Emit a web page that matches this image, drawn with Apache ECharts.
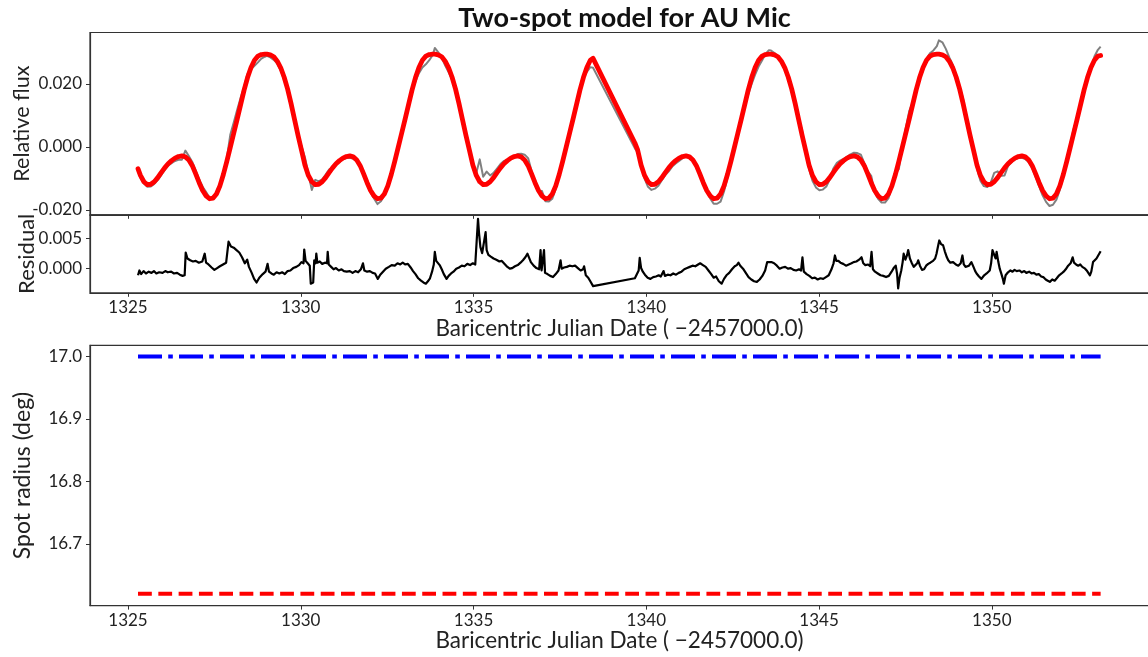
<!DOCTYPE html>
<html><head><meta charset="utf-8">
<script src="https://cdn.jsdelivr.net/npm/echarts@6/dist/echarts.min.js"></script>
<style>html,body{margin:0;padding:0;background:#fff}#c{width:1148px;height:657px}</style>
</head><body><div id="c"></div>
<script>
// ---- Model (red) and observed (grey) light curve, sampled on the same times ----
const modelTime = [
  1325.29,1325.36,1325.46,1325.56,1325.66,1325.76,1325.86,1325.96,1326.06,1326.16,1326.26,1326.36,1326.46,1326.56,1326.66,1326.76,1326.86,1326.96,1327.06,1327.16,1327.26,1327.36,1327.46,1327.56,1327.66,1327.76,1327.86,1327.96,1328.06,1328.16,1328.26,1328.36,1328.46,1328.56,1328.66,1328.76,1328.86,1328.96,
  1329.02,1329.12,1329.22,1329.32,1329.42,1329.52,1329.62,1329.72,1329.82,1329.92,1330.02,1330.12,1330.22,1330.32,1330.42,1330.52,1330.62,1330.72,1330.82,1330.92,1331.02,1331.12,1331.22,1331.32,1331.42,1331.52,1331.62,1331.72,1331.82,1331.92,1332.02,1332.12,1332.22,1332.32,1332.42,1332.52,1332.62,1332.72,1332.82,1332.92,1333.02,1333.12,1333.22,1333.32,1333.42,1333.52,1333.62,1333.72,1333.82,
  1333.88,1333.98,1334.08,1334.18,1334.28,1334.38,1334.48,1334.58,1334.68,1334.78,1334.88,1334.98,1335.08,1335.18,1335.28,1335.38,1335.48,1335.58,1335.68,1335.78,1335.88,1335.98,1336.08,1336.18,1336.28,1336.38,1336.48,1336.58,1336.68,1336.78,1336.88,1336.98,1337.08,1337.18,1337.28,1337.38,1337.48,1337.58,1337.68,1337.78,1337.88,1337.98,1338.08,1338.18,1338.28,1338.38,1338.46,
  1339.67,1339.75,1339.85,1339.95,1340.05,1340.15,1340.25,1340.35,1340.45,1340.55,1340.65,1340.75,1340.85,1340.95,1341.05,1341.15,1341.25,1341.35,1341.45,1341.55,1341.65,1341.75,1341.85,1341.95,1342.05,1342.15,1342.25,1342.35,1342.45,1342.55,1342.65,1342.75,1342.85,1342.95,1343.05,1343.15,1343.25,1343.35,1343.45,1343.55,
  1343.61,1343.71,1343.81,1343.91,1344.01,1344.11,1344.21,1344.31,1344.41,1344.51,1344.61,1344.71,1344.81,1344.91,1345.01,1345.11,1345.21,1345.31,1345.41,1345.51,1345.61,1345.71,1345.81,1345.91,1346.01,1346.11,1346.21,1346.31,1346.41,1346.51,1346.61,1346.71,1346.81,1346.91,1347.01,1347.11,1347.21,1347.31,1347.41,1347.51,1347.61,1347.71,1347.81,1347.91,1348.01,1348.11,1348.21,1348.31,1348.41,
  1348.47,1348.57,1348.67,1348.77,1348.87,1348.97,1349.07,1349.17,1349.27,1349.37,1349.47,1349.57,1349.67,1349.77,1349.87,1349.97,1350.07,1350.17,1350.27,1350.37,1350.47,1350.57,1350.67,1350.77,1350.87,1350.97,1351.07,1351.17,1351.27,1351.37,1351.47,1351.57,1351.67,1351.77,1351.87,1351.97,1352.07,1352.17,1352.27,1352.37,1352.47,1352.57,1352.67,1352.77,1352.87,1352.97,1353.07,1353.15
];
const modelFlux = [
  -0.0070,-0.0091,-0.0111,-0.0120,-0.0119,-0.0111,-0.0098,-0.0082,-0.0067,-0.0054,-0.0044,-0.0036,-0.0031,-0.0029,-0.0032,-0.0042,-0.0060,-0.0086,-0.0114,-0.0139,-0.0156,-0.0165,-0.0163,-0.0150,-0.0124,-0.0088,-0.0046,-0.0002,0.0043,0.0088,0.0134,0.0180,0.0220,0.0252,0.0275,0.0288,0.0293,0.0294,
  0.0294,0.0292,0.0286,0.0272,0.0251,0.0221,0.0183,0.0137,0.0087,0.0037,-0.0010,-0.0058,-0.0091,-0.0111,-0.0120,-0.0119,-0.0111,-0.0098,-0.0082,-0.0067,-0.0054,-0.0044,-0.0036,-0.0031,-0.0029,-0.0032,-0.0042,-0.0060,-0.0086,-0.0114,-0.0139,-0.0156,-0.0165,-0.0163,-0.0150,-0.0124,-0.0088,-0.0046,-0.0002,0.0043,0.0088,0.0134,0.0180,0.0220,0.0252,0.0275,0.0288,0.0293,0.0294,
  0.0294,0.0292,0.0286,0.0272,0.0251,0.0221,0.0183,0.0137,0.0087,0.0037,-0.0010,-0.0058,-0.0091,-0.0111,-0.0120,-0.0119,-0.0111,-0.0098,-0.0082,-0.0067,-0.0054,-0.0044,-0.0036,-0.0031,-0.0029,-0.0032,-0.0042,-0.0060,-0.0086,-0.0114,-0.0139,-0.0156,-0.0165,-0.0163,-0.0150,-0.0124,-0.0088,-0.0046,-0.0002,0.0043,0.0088,0.0134,0.0180,0.0220,0.0252,0.0275,0.0281,
  0.0012,-0.0010,-0.0058,-0.0091,-0.0111,-0.0120,-0.0119,-0.0111,-0.0098,-0.0082,-0.0067,-0.0054,-0.0044,-0.0036,-0.0031,-0.0029,-0.0032,-0.0042,-0.0060,-0.0086,-0.0114,-0.0139,-0.0156,-0.0165,-0.0163,-0.0150,-0.0124,-0.0088,-0.0046,-0.0002,0.0043,0.0088,0.0134,0.0180,0.0220,0.0252,0.0275,0.0288,0.0293,0.0294,
  0.0294,0.0292,0.0286,0.0272,0.0251,0.0221,0.0183,0.0137,0.0087,0.0037,-0.0010,-0.0058,-0.0091,-0.0111,-0.0120,-0.0119,-0.0111,-0.0098,-0.0082,-0.0067,-0.0054,-0.0044,-0.0036,-0.0031,-0.0029,-0.0032,-0.0042,-0.0060,-0.0086,-0.0114,-0.0139,-0.0156,-0.0165,-0.0163,-0.0150,-0.0124,-0.0088,-0.0046,-0.0002,0.0043,0.0088,0.0134,0.0180,0.0220,0.0252,0.0275,0.0288,0.0293,0.0294,
  0.0294,0.0292,0.0286,0.0272,0.0251,0.0221,0.0183,0.0137,0.0087,0.0037,-0.0010,-0.0058,-0.0091,-0.0111,-0.0120,-0.0119,-0.0111,-0.0098,-0.0082,-0.0067,-0.0054,-0.0044,-0.0036,-0.0031,-0.0029,-0.0032,-0.0042,-0.0060,-0.0086,-0.0114,-0.0139,-0.0156,-0.0165,-0.0163,-0.0150,-0.0124,-0.0088,-0.0046,-0.0002,0.0043,0.0088,0.0134,0.0180,0.0220,0.0252,0.0275,0.0288,0.0290
];
const observedFlux = [
  -0.0078,-0.0098,-0.0117,-0.0127,-0.0126,-0.0118,-0.0106,-0.0090,-0.0074,-0.0060,-0.0052,-0.0045,-0.0041,-0.0041,-0.0012,-0.0029,-0.0048,-0.0076,-0.0104,-0.0127,-0.0144,-0.0162,-0.0165,-0.0151,-0.0122,-0.0082,-0.0036,0.0038,0.0077,0.0118,0.0156,0.0190,0.0232,0.0246,0.0257,0.0268,0.0280,0.0286,
  0.0289,0.0284,0.0276,0.0264,0.0243,0.0212,0.0177,0.0134,0.0087,0.0042,0.0002,-0.0033,-0.0085,-0.0137,-0.0105,-0.0110,-0.0103,-0.0088,-0.0072,-0.0067,-0.0056,-0.0047,-0.0040,-0.0036,-0.0035,-0.0038,-0.0047,-0.0058,-0.0082,-0.0119,-0.0145,-0.0164,-0.0182,-0.0173,-0.0154,-0.0124,-0.0084,-0.0040,0.0005,0.0051,0.0095,0.0138,0.0177,0.0208,0.0234,0.0252,0.0262,0.0275,0.0292,
  0.0314,0.0300,0.0283,0.0258,0.0237,0.0213,0.0179,0.0137,0.0090,0.0042,-0.0004,-0.0051,-0.0083,-0.0040,-0.0095,-0.0079,-0.0091,-0.0083,-0.0069,-0.0055,-0.0045,-0.0042,-0.0037,-0.0029,-0.0023,-0.0022,-0.0025,-0.0036,-0.0077,-0.0112,-0.0139,-0.0140,-0.0173,-0.0174,-0.0165,-0.0133,-0.0089,-0.0044,0.0000,0.0046,0.0092,0.0135,0.0176,0.0217,0.0238,0.0253,0.0251,
  -0.0005,-0.0018,-0.0048,-0.0101,-0.0127,-0.0137,-0.0133,-0.0124,-0.0106,-0.0090,-0.0078,-0.0063,-0.0053,-0.0045,-0.0036,-0.0029,-0.0030,-0.0038,-0.0055,-0.0079,-0.0109,-0.0137,-0.0164,-0.0181,-0.0181,-0.0174,-0.0142,-0.0098,-0.0050,0.0000,0.0050,0.0090,0.0129,0.0166,0.0200,0.0229,0.0255,0.0274,0.0295,0.0307,
  0.0306,0.0298,0.0286,0.0272,0.0253,0.0221,0.0181,0.0134,0.0085,0.0052,-0.0019,-0.0070,-0.0108,-0.0129,-0.0138,-0.0136,-0.0126,-0.0104,-0.0070,-0.0052,-0.0044,-0.0038,-0.0032,-0.0024,-0.0019,-0.0020,-0.0025,-0.0052,-0.0078,-0.0092,-0.0144,-0.0165,-0.0177,-0.0177,-0.0163,-0.0128,-0.0085,-0.0071,0.0003,0.0059,0.0113,0.0141,0.0185,0.0228,0.0248,0.0279,0.0297,0.0306,0.0320,
  0.0338,0.0332,0.0311,0.0284,0.0261,0.0227,0.0191,0.0152,0.0086,0.0044,-0.0008,-0.0068,-0.0108,-0.0125,-0.0128,-0.0114,-0.0083,-0.0078,-0.0092,-0.0091,-0.0061,-0.0049,-0.0040,-0.0036,-0.0035,-0.0039,-0.0049,-0.0068,-0.0096,-0.0126,-0.0154,-0.0175,-0.0188,-0.0184,-0.0168,-0.0136,-0.0095,-0.0045,0.0008,0.0057,0.0093,0.0137,0.0180,0.0214,0.0248,0.0287,0.0308,0.0318
];

// ---- Residual (black) ----
const residualTime = [
  1325.29,1325.33,1325.38,1325.45,1325.52,1325.6,1325.68,1325.75,1325.82,1325.9,1326.0,1326.08,1326.15,1326.25,1326.33,1326.42,1326.5,1326.58,1326.64,1326.67,1326.72,1326.8,1326.88,1326.96,1327.05,1327.15,1327.22,1327.26,1327.33,1327.42,1327.5,1327.58,1327.66,1327.75,1327.84,1327.88,1327.91,1327.98,1328.06,1328.14,1328.22,1328.3,1328.38,1328.42,1328.45,1328.5,1328.58,1328.65,1328.72,1328.8,1328.9,1328.98,1329.04,1329.08,1329.15,1329.22,1329.3,1329.38,1329.46,1329.54,1329.62,1329.7,1329.78,1329.87,1329.95,1330.02,1330.08,1330.1,1330.14,1330.2,1330.26,1330.29,1330.33,1330.36,1330.39,1330.43,1330.45,1330.48,1330.55,1330.62,1330.7,1330.76,1330.78,1330.81,1330.88,1330.95,1331.02,1331.1,1331.18,1331.25,1331.33,1331.42,1331.5,1331.58,1331.66,1331.74,1331.8,1331.84,1331.92,1332.0,1332.08,1332.15,1332.23,1332.3,1332.38,1332.46,1332.55,1332.63,1332.72,1332.8,1332.88,1332.95,1333.02,1333.1,1333.18,1333.25,1333.32,1333.4,1333.48,1333.55,1333.62,1333.68,1333.74,1333.8,1333.85,1333.88,1333.92,1333.97,1334.02,1334.08,1334.14,1334.22,1334.28,1334.35,1334.42,1334.5,1334.58,1334.66,1334.74,1334.82,1334.9,1334.98,1335.05,1335.1,1335.13,1335.16,1335.2,1335.25,1335.3,1335.35,1335.38,1335.43,1335.5,1335.58,1335.66,1335.75,1335.82,1335.9,1335.98,1336.05,1336.12,1336.2,1336.28,1336.36,1336.43,1336.5,1336.56,1336.6,1336.66,1336.74,1336.82,1336.9,1336.94,1336.97,1337.01,1337.04,1337.07,1337.14,1337.22,1337.3,1337.38,1337.46,1337.5,1337.52,1337.55,1337.62,1337.7,1337.78,1337.86,1337.94,1338.02,1338.1,1338.17,1338.2,1338.25,1338.32,1338.38,1338.46,
  1339.67,1339.73,1339.78,1339.81,1339.85,1339.9,1339.96,1340.04,1340.12,1340.2,1340.28,1340.36,1340.42,1340.5,1340.54,1340.62,1340.7,1340.78,1340.86,1340.94,1341.02,1341.1,1341.18,1341.26,1341.34,1341.42,1341.5,1341.56,1341.64,1341.72,1341.8,1341.88,1341.95,1342.02,1342.1,1342.18,1342.25,1342.32,1342.4,1342.48,1342.56,1342.62,1342.67,1342.72,1342.8,1342.88,1342.96,1343.04,1343.12,1343.2,1343.28,1343.36,1343.44,1343.5,1343.55,1343.62,1343.7,1343.78,1343.86,1343.94,1344.02,1344.1,1344.18,1344.26,1344.34,1344.42,1344.48,1344.52,1344.56,1344.64,1344.72,1344.8,1344.88,1344.96,1345.04,1345.12,1345.2,1345.28,1345.36,1345.42,1345.46,1345.5,1345.56,1345.62,1345.7,1345.78,1345.86,1345.94,1346.0,1346.08,1346.16,1346.23,1346.28,1346.34,1346.42,1346.48,1346.52,1346.56,1346.62,1346.7,1346.78,1346.86,1346.94,1347.02,1347.1,1347.16,1347.22,1347.26,1347.29,1347.33,1347.38,1347.42,1347.45,1347.5,1347.55,1347.58,1347.63,1347.68,1347.74,1347.78,1347.84,1347.87,1347.92,1347.98,1348.04,1348.1,1348.16,1348.22,1348.3,1348.36,1348.4,1348.45,1348.48,1348.53,1348.59,1348.64,1348.7,1348.74,1348.8,1348.88,1348.96,1349.03,1349.1,1349.15,1349.19,1349.24,1349.27,1349.34,1349.41,1349.47,1349.52,1349.56,1349.63,1349.7,1349.78,1349.85,1349.94,1349.98,1350.02,1350.07,1350.11,1350.14,1350.19,1350.23,1350.28,1350.32,1350.35,1350.4,1350.47,1350.54,1350.6,1350.66,1350.72,1350.8,1350.87,1350.94,1351.0,1351.08,1351.15,1351.22,1351.29,1351.36,1351.43,1351.49,1351.56,1351.62,1351.68,1351.75,1351.82,1351.88,1351.95,1352.02,1352.08,1352.14,1352.21,1352.28,1352.34,1352.38,1352.44,1352.5,1352.56,1352.62,1352.7,1352.76,1352.84,1352.88,1352.93,1352.98,1353.03,1353.08,1353.12,1353.15
];
const residualValue = [
  -0.0012,-0.0004,-0.0010,-0.0005,-0.0009,-0.0006,-0.0008,-0.0005,-0.0009,-0.0007,-0.0008,-0.0005,-0.0007,-0.0006,-0.0009,-0.0008,-0.0011,-0.0013,-0.0012,0.0026,0.0016,0.0013,0.0011,0.0012,0.0009,0.0011,0.0024,0.0009,0.0006,0.0001,-0.0003,0.0000,0.0003,0.0006,0.0009,0.0010,0.0044,0.0036,0.0034,0.0030,0.0026,0.0018,0.0008,0.0005,0.0014,0.0002,-0.0008,-0.0018,-0.0024,-0.0016,-0.0010,-0.0006,0.0007,-0.0006,-0.0009,-0.0011,-0.0007,-0.0009,-0.0007,-0.0010,-0.0005,-0.0004,0.0000,0.0002,0.0005,0.0010,0.0008,0.0031,0.0012,0.0008,0.0004,-0.0026,-0.0028,-0.0024,0.0013,0.0008,0.0024,0.0009,0.0011,0.0007,0.0009,0.0008,0.0027,0.0006,0.0002,-0.0002,0.0000,-0.0004,-0.0002,-0.0005,-0.0006,-0.0005,-0.0008,-0.0005,-0.0007,-0.0002,0.0008,-0.0004,-0.0006,-0.0005,-0.0008,-0.0009,-0.0018,-0.0011,-0.0006,-0.0001,0.0002,0.0005,0.0004,0.0008,0.0006,0.0009,0.0006,0.0007,0.0001,-0.0005,-0.0010,-0.0017,-0.0021,-0.0024,-0.0026,-0.0022,-0.0017,-0.0006,0.0006,0.0027,0.0012,0.0010,0.0005,-0.0002,-0.0010,-0.0018,-0.0013,-0.0009,-0.0006,-0.0001,0.0001,0.0004,0.0003,0.0007,0.0005,0.0008,0.0006,0.0009,0.0082,0.0058,0.0035,0.0025,0.0028,0.0060,0.0030,0.0022,0.0019,0.0016,0.0014,0.0011,0.0012,0.0007,0.0002,-0.0001,0.0000,0.0003,0.0005,0.0009,0.0013,0.0018,0.0024,0.0021,0.0010,0.0004,0.0000,-0.0002,0.0030,-0.0004,-0.0003,0.0030,-0.0008,-0.0010,-0.0013,-0.0015,-0.0010,-0.0004,-0.0002,0.0013,-0.0001,0.0001,0.0002,0.0004,0.0003,0.0004,0.0000,-0.0004,-0.0002,0.0003,-0.0012,-0.0016,-0.0022,-0.0030,
  -0.0017,-0.0010,-0.0004,0.0017,0.0000,-0.0006,-0.0011,-0.0016,-0.0018,-0.0015,-0.0014,-0.0012,-0.0014,-0.0005,-0.0013,-0.0011,-0.0012,-0.0009,-0.0011,-0.0008,-0.0006,-0.0002,0.0000,0.0002,0.0004,0.0003,0.0006,0.0008,0.0005,0.0002,-0.0004,-0.0010,-0.0016,-0.0014,-0.0022,-0.0026,-0.0018,-0.0012,-0.0008,-0.0002,0.0003,0.0005,0.0009,0.0004,-0.0001,-0.0008,-0.0015,-0.0019,-0.0022,-0.0023,-0.0019,-0.0013,-0.0004,0.0010,0.0013,0.0010,0.0008,0.0004,-0.0001,0.0001,0.0002,-0.0001,0.0000,-0.0003,-0.0004,-0.0002,-0.0004,0.0018,-0.0006,-0.0010,-0.0013,-0.0017,-0.0016,-0.0019,-0.0017,-0.0018,-0.0015,-0.0012,-0.0002,0.0008,0.0021,0.0012,0.0012,0.0009,0.0007,0.0004,0.0006,0.0008,0.0010,0.0011,0.0014,0.0018,0.0008,0.0005,0.0006,0.0003,0.0027,-0.0002,-0.0006,-0.0009,-0.0012,-0.0013,-0.0015,-0.0013,-0.0006,0.0000,0.0004,-0.0010,-0.0034,-0.0016,-0.0004,0.0010,0.0024,0.0014,0.0022,0.0030,0.0016,0.0009,0.0002,0.0001,0.0008,0.0013,0.0004,-0.0003,-0.0002,0.0004,0.0007,0.0009,0.0012,0.0016,0.0024,0.0038,0.0046,0.0040,0.0038,0.0028,0.0018,0.0013,0.0009,0.0010,0.0006,0.0004,0.0008,0.0021,0.0006,0.0002,-0.0001,0.0004,0.0010,0.0002,-0.0005,-0.0009,-0.0014,-0.0018,-0.0012,-0.0009,-0.0004,0.0008,0.0030,0.0022,0.0016,0.0027,0.0010,-0.0001,-0.0010,-0.0018,-0.0026,-0.0012,-0.0007,-0.0004,-0.0006,-0.0003,-0.0005,-0.0004,-0.0007,-0.0005,-0.0008,-0.0006,-0.0009,-0.0008,-0.0011,-0.0010,-0.0014,-0.0015,-0.0019,-0.0021,-0.0023,-0.0019,-0.0021,-0.0017,-0.0012,-0.0009,-0.0006,-0.0002,0.0004,0.0008,0.0018,0.0009,0.0006,0.0004,0.0006,0.0002,-0.0001,-0.0005,-0.0012,-0.0006,0.0010,0.0013,0.0016,0.0021,0.0024,0.0028
];

// ---- Spot radii ----
const spotTime = [1325.29, 1353.15];
const spot1Radius = [17.0, 17.0];
const spot2Radius = [16.62, 16.62];

// ---- Tick labels ----
const timeTicks = [1325, 1330, 1335, 1340, 1345, 1350];
const fluxTicks = [-0.02, 0.0, 0.02];
const residualTicks = [0.0, 0.005];
const radiusTicks = [16.7, 16.8, 16.9, 17.0];

const FONT = 'Lato';
const TXT = '#222';
const pair = (xs, ys) => xs.map((x, i) => [x, ys[i]]);

function xAxisFor(grid, showLabels, name) {
  return {
    type: 'value', gridIndex: grid, min: 1323.9, max: 1354.55,
    axisLine: { show: true, onZero: false, lineStyle: { color: '#333', width: 1.2 } },
    axisTick: { show: true, customValues: timeTicks, length: 4, inside: false, lineStyle: { color: '#333', width: 1 } },
    axisLabel: { show: showLabels, customValues: timeTicks, margin: 6, fontSize: 17, color: TXT, fontFamily: FONT, formatter: v => String(Math.round(v)) },
    splitLine: { show: false },
    name: name || '', nameLocation: 'middle', nameGap: 24, nameMoveOverlap: false,
    nameTextStyle: { fontSize: 22.5, color: TXT, fontFamily: FONT }
  };
}
function yAxisFor(grid, min, max, ticks, dec, name, gap, nameSize) {
  return {
    type: 'value', gridIndex: grid, min: min, max: max,
    axisLine: { show: true, onZero: false, lineStyle: { color: '#333', width: 1.2 } },
    axisTick: { show: true, customValues: ticks, length: 4, inside: false, lineStyle: { color: '#333', width: 1 } },
    axisLabel: { show: true, customValues: ticks, margin: 8, fontSize: 17, color: TXT, fontFamily: FONT, formatter: v => v.toFixed(dec) },
    splitLine: { show: false },
    name: name, nameLocation: 'middle', nameGap: gap, nameRotate: 90, nameMoveOverlap: false,
    nameTextStyle: { fontSize: nameSize, color: TXT, fontFamily: FONT }
  };
}

const gridBase = { left: 90, width: 1059, show: true, borderColor: '#333', borderWidth: 1.2, backgroundColor: 'transparent', containLabel: false, outerBoundsMode: 'none' };

const chart = echarts.init(document.getElementById('c'), null, { renderer: 'canvas' });
chart.setOption({
  animation: false,
  backgroundColor: '#fff',
  textStyle: { fontFamily: FONT },
  title: {
    text: 'Two-spot model for AU Mic', left: 619.5, top: 0, textAlign: 'center',
    textStyle: { fontSize: 27, fontWeight: 'bold', color: '#111', fontFamily: FONT }
  },
  grid: [
    Object.assign({}, gridBase, { top: 32.5, height: 182.3 }),
    Object.assign({}, gridBase, { top: 214.8, height: 78 }),
    Object.assign({}, gridBase, { top: 345.3, height: 260.3 })
  ],
  xAxis: [
    xAxisFor(0, false, ''),
    xAxisFor(1, true, 'Baricentric Julian Date ( \u22122457000.0)'),
    xAxisFor(2, true, 'Baricentric Julian Date ( \u22122457000.0)')
  ],
  yAxis: [
    yAxisFor(0, -0.0216, 0.0363, fluxTicks, 3, 'Relative flux', 57, 21.5),
    yAxisFor(1, -0.00412, 0.00888, residualTicks, 3, 'Residual', 52, 22),
    yAxisFor(2, 16.601, 17.018, radiusTicks, 1, 'Spot radius (deg)', 56, 23)
  ],
  series: [
    { type: 'line', xAxisIndex: 0, yAxisIndex: 0, data: pair(modelTime, observedFlux), showSymbol: false, symbol: 'none', z: 2,
      lineStyle: { color: '#808080', width: 2, join: 'round' } },
    { type: 'line', xAxisIndex: 0, yAxisIndex: 0, data: pair(modelTime, modelFlux), showSymbol: false, symbol: 'none', z: 3,
      lineStyle: { color: '#ff0000', width: 4.8, join: 'round', cap: 'round' } },
    { type: 'line', xAxisIndex: 1, yAxisIndex: 1, data: pair(residualTime, residualValue), showSymbol: false, symbol: 'none', z: 3,
      lineStyle: { color: '#000', width: 2.2, join: 'round' } },
    { type: 'line', xAxisIndex: 2, yAxisIndex: 2, data: pair(spotTime, spot1Radius), showSymbol: false, symbol: 'none', z: 3,
      lineStyle: { color: '#0000ff', width: 4, type: [24, 6.2, 4.6, 6.2], cap: 'butt' } },
    { type: 'line', xAxisIndex: 2, yAxisIndex: 2, data: pair(spotTime, spot2Radius), showSymbol: false, symbol: 'none', z: 3,
      lineStyle: { color: '#ff0000', width: 4, type: [13.8, 6.5], cap: 'butt' } }
  ]
});
</script>
</body></html>
